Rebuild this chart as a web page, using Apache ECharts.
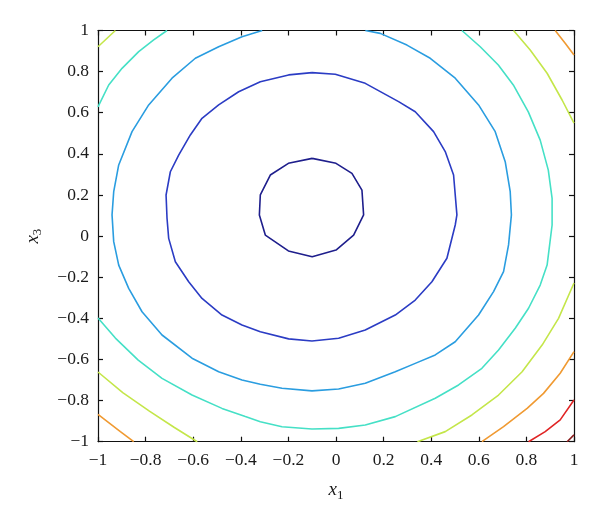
<!DOCTYPE html>
<html>
<head>
<meta charset="utf-8">
<script src="https://cdn.jsdelivr.net/npm/echarts@6/dist/echarts.min.js"></script>
<style>
html,body{margin:0;padding:0;background:#fff;}
#chart{width:600px;height:521px;}
</style>
</head>
<body>
<div id="chart"></div>
<script>
// Axis ticks
const xTicks = [-1, -0.8, -0.6, -0.4, -0.2, 0, 0.2, 0.4, 0.6, 0.8, 1];
const yTicks = [-1, -0.8, -0.6, -0.4, -0.2, 0, 0.2, 0.4, 0.6, 0.8, 1];

// Contour lines, [x1, x3] vertices, one array per segment
const level1 = [[-0.10,0.378],[0.00,0.354],[0.067,0.305],[0.109,0.224],[0.116,0.103],[0.074,0.005],[0.00,-0.068],[-0.10,-0.10],[-0.20,-0.072],[-0.297,0.005],[-0.322,0.103],[-0.318,0.20],[-0.276,0.297],[-0.20,0.354],[-0.10,0.378]];
const level2 = [[-0.101,0.795],[-0.199,0.784],[-0.318,0.751],[-0.409,0.702],[-0.493,0.638],[-0.563,0.573],[-0.612,0.492],[-0.661,0.394],[-0.696,0.313],[-0.714,0.200],[-0.710,0.087],[-0.703,-0.011],[-0.675,-0.125],[-0.619,-0.222],[-0.563,-0.303],[-0.479,-0.384],[-0.395,-0.432],[-0.318,-0.465],[-0.199,-0.500],[-0.101,-0.510],[0.011,-0.497],[0.123,-0.457],[0.249,-0.384],[0.333,-0.311],[0.403,-0.222],[0.466,-0.108],[0.501,0.054],[0.508,0.103],[0.494,0.297],[0.459,0.411],[0.410,0.508],[0.333,0.605],[0.263,0.654],[0.123,0.743],[-0.003,0.787],[-0.101,0.795]];
const level3 = [[-0.310,1.0],[-0.395,0.970],[-0.493,0.921],[-0.591,0.865],[-0.689,0.768],[-0.787,0.638],[-0.857,0.508],[-0.913,0.346],[-0.934,0.216],[-0.941,0.103],[-0.934,-0.027],[-0.913,-0.141],[-0.871,-0.254],[-0.815,-0.368],[-0.731,-0.481],[-0.605,-0.594],[-0.493,-0.660],[-0.395,-0.700],[-0.318,-0.721],[-0.227,-0.740],[-0.101,-0.753],[0.011,-0.744],[0.123,-0.716],[0.249,-0.660],[0.333,-0.619],[0.417,-0.578],[0.501,-0.514],[0.599,-0.384],[0.662,-0.270],[0.704,-0.173],[0.725,-0.043],[0.737,0.103],[0.732,0.216],[0.711,0.362],[0.669,0.508],[0.599,0.638],[0.501,0.768],[0.396,0.865],[0.298,0.929],[0.186,0.986],[0.123,1.0]];
const level4a = [[-1.0,0.629],[-0.955,0.735],[-0.899,0.816],[-0.829,0.897],[-0.766,0.954],[-0.710,1.0]];
const level4b = [[-1.0,-0.398],[-0.927,-0.496],[-0.831,-0.603],[-0.731,-0.692],[-0.605,-0.773],[-0.479,-0.838],[-0.381,-0.878],[-0.318,-0.903],[-0.227,-0.927],[-0.101,-0.938],[0.011,-0.935],[0.123,-0.919],[0.249,-0.878],[0.417,-0.789],[0.515,-0.724],[0.613,-0.643],[0.683,-0.554],[0.753,-0.448],[0.809,-0.351],[0.858,-0.238],[0.887,-0.141],[0.908,0.054],[0.908,0.184],[0.892,0.321],[0.858,0.467],[0.808,0.604],[0.745,0.735],[0.682,0.832],[0.606,0.921],[0.529,1.0]];
const level5a = [[-1.0,0.921],[-0.927,1.0]];
const level5b = [[0.746,1.0],[0.816,0.905],[0.887,0.792],[0.950,0.662],[1.0,0.549]];
const level5c = [[-1.0,-0.661],[-0.896,-0.761],[-0.784,-0.851],[-0.679,-0.931],[-0.583,-1.0]];
const level5d = [[1.0,-0.228],[0.935,-0.400],[0.866,-0.530],[0.782,-0.660],[0.683,-0.773],[0.571,-0.870],[0.459,-0.951],[0.342,-1.0]];
const level6a = [[0.921,1.0],[0.963,0.938],[1.0,0.881]];
const level6b = [[-1.0,-0.867],[-0.906,-0.951],[-0.850,-1.0]];
const level6c = [[1.0,-0.562],[0.942,-0.667],[0.872,-0.765],[0.803,-0.838],[0.704,-0.927],[0.613,-1.0]];
const level7 = [[1.0,-0.797],[0.942,-0.894],[0.879,-0.951],[0.809,-1.0]];
const level8 = [[1.0,-0.967],[0.971,-1.0]];

const segments = [
  [level1, '#1e1e8c'],
  [level2, '#2b3cc4'],
  [level3, '#2a9de0'],
  [level4a, '#45e0c6'], [level4b, '#45e0c6'],
  [level5a, '#c4e64a'], [level5b, '#c4e64a'], [level5c, '#c4e64a'], [level5d, '#c4e64a'],
  [level6a, '#f09a32'], [level6b, '#f09a32'], [level6c, '#f09a32'],
  [level7, '#e02424'],
  [level8, '#8a1c1c']
];

const fmt = v => {
  const s = String(Math.round(v * 10) / 10);
  return s.replace('-', '\u2212');
};

const font = 'Liberation Serif';
const chart = echarts.init(document.getElementById('chart'), null, {renderer: 'canvas'});

const axisCommon = {
  type: 'value', min: -1, max: 1, interval: 0.2,
  axisLine: {show: true, onZero: false, lineStyle: {color: '#111', width: 1.2}},
  axisTick: {show: true, inside: true, length: 5, lineStyle: {color: '#111', width: 1.2}},
  splitLine: {show: false},
  axisLabel: {color: '#1a1a1a', fontFamily: font, fontSize: 17.5, formatter: fmt}
};

chart.setOption({
  animation: false,
  backgroundColor: '#ffffff',
  grid: {left: 98, right: 26, top: 30.5, bottom: 79.3, containLabel: false},
  xAxis: [
    Object.assign({}, axisCommon, {
      position: 'bottom',
      axisLabel: Object.assign({}, axisCommon.axisLabel, {margin: 10}),
      name: '{i|x}{s|1}', nameLocation: 'middle', nameGap: 37,
      nameTextStyle: {rich: {i: {fontFamily: font, fontStyle: 'italic', fontSize: 19, color: '#1a1a1a'}, s: {fontFamily: font, fontSize: 13, color: '#1a1a1a', verticalAlign: 'bottom', padding: [10, 0, 0, 0]}}}
    }),
    Object.assign({}, axisCommon, {position: 'top', axisLabel: {show: false}})
  ],
  yAxis: [
    Object.assign({}, axisCommon, {
      position: 'left',
      axisLabel: Object.assign({}, axisCommon.axisLabel, {margin: 9}),
      name: '{i|x}{s|3}', nameLocation: 'middle', nameGap: 54, nameRotate: 90,
      nameTextStyle: {rich: {i: {fontFamily: font, fontStyle: 'italic', fontSize: 19, color: '#1a1a1a'}, s: {fontFamily: font, fontSize: 13, color: '#1a1a1a', verticalAlign: 'bottom', padding: [10, 0, 0, 0]}}}
    }),
    Object.assign({}, axisCommon, {position: 'right', axisLabel: {show: false}})
  ],
  series: segments.map(([pts, color]) => ({
    type: 'line', data: pts, xAxisIndex: 0, yAxisIndex: 0,
    showSymbol: false, smooth: false, clip: true, silent: true,
    lineStyle: {color: color, width: 1.6}
  }))
});
</script>
</body>
</html>
